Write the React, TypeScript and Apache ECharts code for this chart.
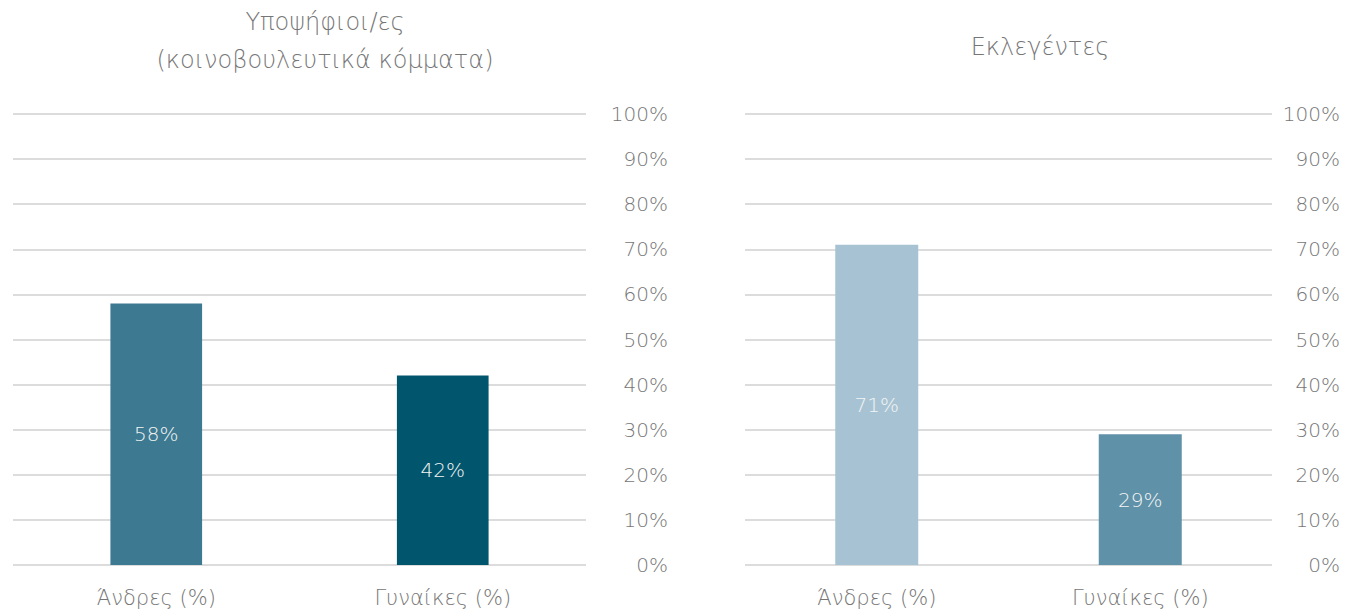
import React, { useEffect, useRef } from "react";
import * as echarts from "echarts";

const categories = ["Άνδρες (%)", "Γυναίκες (%)"];
const candidatesValues = [58, 42];
const electedValues = [71, 29];
const candidatesColors = ["#3d7a91", "#01566e"];
const electedColors = ["#a7c3d3", "#5f91a8"];
const titleLeft = ["Υποψήφιοι/ες", "(κοινοβουλευτικά κόμματα)"];
const titleRight = "Εκλεγέντες";

const FONT = "'DejaVu Sans ExtraLight', 'DejaVu Sans', sans-serif";
const GRAY = "#767676";

export default function App() {
  const ref = useRef<HTMLDivElement>(null);
  useEffect(() => {
    if (!ref.current) return;
    const chart = echarts.init(ref.current, null, { renderer: "svg" });
    const yAxis = (gridIndex: number, margin: number) => ({
      type: "value",
      gridIndex,
      min: 0,
      max: 100,
      interval: 10,
      position: "right",
      axisLine: { show: false },
      axisTick: { show: false },
      splitLine: { lineStyle: { color: "#dcdcdc", width: 2 } },
      axisLabel: {
        formatter: "{value}%",
        align: "right",
        margin,
        fontSize: 20,
        fontWeight: 200,
        fontFamily: FONT,
        color: GRAY,
      },
    });
    const xAxis = (gridIndex: number) => ({
      type: "category",
      gridIndex,
      data: categories,
      axisLine: { show: false },
      axisTick: { show: false },
      axisLabel: {
        margin: 22,
        fontSize: 21,
        fontWeight: 200,
        fontFamily: FONT,
        color: GRAY,
      },
    });
    const label = {
      show: true,
      position: "inside",
      formatter: "{c}%",
      color: "#f4f4f4",
      fontSize: 20,
      fontWeight: 200,
      fontFamily: FONT,
    };
    chart.setOption({
      animation: false,
      grid: [
        { left: 13, right: 771, top: 114, bottom: 44 },
        { left: 745, right: 85, top: 114, bottom: 44 },
      ],
      xAxis: [xAxis(0), xAxis(1)],
      yAxis: [yAxis(0, 82), yAxis(1, 68)],
      graphic: [
        {
          type: "text",
          x: 325,
          y: 41,
          style: {
            text: titleLeft.join("\n"),
            align: "center",
            verticalAlign: "middle",
            lineHeight: 38,
            fontSize: 24,
            fontWeight: 200,
            fontFamily: FONT,
            fill: GRAY,
          },
        },
        {
          type: "text",
          x: 1040,
          y: 47,
          style: {
            text: titleRight,
            align: "center",
            verticalAlign: "middle",
            fontSize: 24,
            fontWeight: 200,
            fontFamily: FONT,
            fill: GRAY,
          },
        },
      ],
      series: [
        {
          type: "bar",
          xAxisIndex: 0,
          yAxisIndex: 0,
          barWidth: "32%",
          data: candidatesValues.map((v, i) => ({ value: v, itemStyle: { color: candidatesColors[i] } })),
          label,
        },
        {
          type: "bar",
          xAxisIndex: 1,
          yAxisIndex: 1,
          barWidth: "31.5%",
          data: electedValues.map((v, i) => ({ value: v, itemStyle: { color: electedColors[i] } })),
          label,
        },
      ],
    });
    return () => chart.dispose();
  }, []);
  return (
    <div
      ref={ref}
      style={{ position: "absolute", left: 0, top: 0, width: 1357, height: 609, background: "#fff" }}
    />
  );
}
